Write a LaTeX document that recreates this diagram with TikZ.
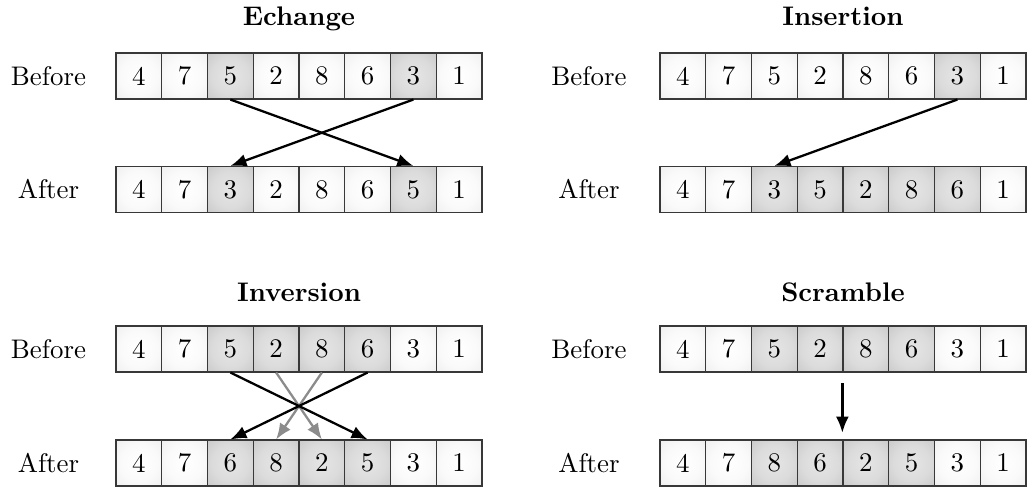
\documentclass[tikz,border=0pt]{standalone}
\usetikzlibrary{arrows.meta}
% soft radial fills that spread over the whole cell
\pgfdeclareradialshading{cellplain}{\pgfpoint{0bp}{0bp}}{%
  color(0bp)=(white); color(20bp)=(black!2); color(50bp)=(black!10); color(72bp)=(black!13)}
\pgfdeclareradialshading{cellmark}{\pgfpoint{0bp}{0bp}}{%
  color(0bp)=(black!10); color(20bp)=(black!14); color(50bp)=(black!27); color(72bp)=(black!32)}
\begin{document}
\begin{tikzpicture}[x=0.372pt,y=-0.372pt,
  cell/.style={draw=black!78, line width=0.5pt, minimum size=17pt, inner sep=0pt,
    shading=cellplain},
  plain/.style={},
  hl/.style={shading=cellmark},
  lbl/.style={inner sep=0pt},
  ttl/.style={font=\bfseries, anchor=base, inner sep=0pt},
  arr/.style={-{Latex[length=6pt,width=4.8pt]}, line width=0.85pt},
  garr/.style={arr, draw=black!45, fill=black!45}]
\useasboundingbox (0,0) rectangle (1027,489);

% one row of eight cells: name, left edge, vertical centre, value/style list
\newcommand\cellrow[4]{%
  \foreach \v/\s [count=\i from 0] in {#4} {
    \node[cell,\s] (#1\i) at ({#2+(\i+0.5)*45.75},#3) {\v};
  }}

% Echange
\node[ttl] (tE) at (299,25) {Echange};
\node[lbl] (lEB) at (48.5,76) {Before};
\node[lbl] (lEA) at (48.5,189.5) {After};
\cellrow{EB}{116}{76}{4/plain,7/plain,5/hl,2/plain,8/plain,6/plain,3/hl,1/plain}
\cellrow{EA}{116}{189.5}{4/plain,7/plain,3/hl,2/plain,8/plain,6/plain,5/hl,1/plain}
\draw[arr] (EB2.south) -- (EA6.north);
\draw[arr] (EB6.south) -- (EA2.north);

% Insertion
\node[ttl] (tI) at (843,25) {Insertion};
\node[lbl] (lIB) at (589,76) {Before};
\node[lbl] (lIA) at (589,189.5) {After};
\cellrow{IB}{660}{76}{4/plain,7/plain,5/plain,2/plain,8/plain,6/plain,3/hl,1/plain}
\cellrow{IA}{660}{189.5}{4/plain,7/plain,3/hl,5/hl,2/hl,8/hl,6/hl,1/plain}
\draw[arr] (IB6.south) -- (IA2.north);

% Inversion
\node[ttl] (tV) at (299,301) {Inversion};
\node[lbl] (lVB) at (48.5,349) {Before};
\node[lbl] (lVA) at (48.5,463) {After};
\cellrow{VB}{116}{349}{4/plain,7/plain,5/hl,2/hl,8/hl,6/hl,3/plain,1/plain}
\cellrow{VA}{116}{463}{4/plain,7/plain,6/hl,8/hl,2/hl,5/hl,3/plain,1/plain}
\draw[garr] (VB3.south) -- (VA4.north);
\draw[garr] (VB4.south) -- (VA3.north);
\draw[arr] (VB2.south) -- (VA5.north);
\draw[arr] (VB5.south) -- (VA2.north);

% Scramble
\node[ttl] (tS) at (843,301) {Scramble};
\node[lbl] (lSB) at (589,349) {Before};
\node[lbl] (lSA) at (589,463) {After};
\cellrow{SB}{660}{349}{4/plain,7/plain,5/hl,2/hl,8/hl,6/hl,3/plain,1/plain}
\cellrow{SA}{660}{463}{4/plain,7/plain,8/hl,6/hl,2/hl,5/hl,3/plain,1/plain}
\draw[arr, shorten <=4pt, shorten >=2.5pt] (SB4.south west) -- (SA4.north west);
\end{tikzpicture}
\end{document}
